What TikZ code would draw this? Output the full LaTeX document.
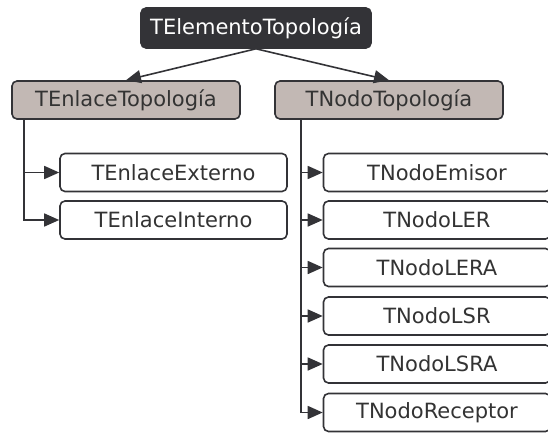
\documentclass[tikz,border=0pt]{standalone}
\usepackage{fontspec}
\setmainfont{DejaVu Sans}
\usepackage{tikz}
\usetikzlibrary{arrows.meta}
\definecolor{caja}{HTML}{333337}
\definecolor{padre}{HTML}{C2B8B4}
\definecolor{texto}{HTML}{333333}

\tikzset{
  clase/.style={draw=caja, line width=1.6pt, rounded corners=5pt, inner sep=0pt,
    minimum width=228pt, minimum height=38pt, text=texto,
    font=\fontsize{21}{24}\selectfont},
  raiz/.style={clase, fill=caja, text=white, minimum width=230pt, minimum height=40pt},
  base/.style={clase, fill=padre},
  hoja/.style={clase, fill=white, minimum width=227pt},
  rama/.style={draw=caja, line width=1.6pt, ->}
}

\begin{document}
\begin{tikzpicture}[x=1pt,y=-1pt,>={Triangle[length=15pt,width=13pt]}]

		\clip (0,0) rectangle (548,433);

		% raiz
		\node[raiz] (elem) at (256,28) {TElementoTopología};

		% clases base
		\node[base] (enlace) at (126,100) {TEnlaceTopología};
		\node[base] (nodo) at (389,100) {TNodoTopología};

		\draw[rama] (elem.south) -- (enlace.north);
		\draw[rama] (elem.south) -- (nodo.north);

		% enlaces
		\node[hoja] (ext) at (173.5,172.5) {TEnlaceExterno};
		\node[hoja] (int) at (173.5,220) {TEnlaceInterno};

		\coordinate (bus-enl) at (24,119);
		\foreach \h in {ext,int}
		{\draw[rama] (bus-enl) |- (\h.west);}

		% nodos
		\node[hoja] (emisor) at (437,172.5) {TNodoEmisor};
		\node[hoja] (ler) at (437,220) {TNodoLER};
		\node[hoja] (lera) at (437,267.5) {TNodoLERA};
		\node[hoja] (lsr) at (437,316) {TNodoLSR};
		\node[hoja] (lsra) at (437,364) {TNodoLSRA};
		\node[hoja] (rec) at (437,412.5) {TNodoReceptor};

		\coordinate (bus-nod) at (301,119);
		\foreach \h in {emisor,ler,lera,lsr,lsra,rec}
		{\draw[rama] (bus-nod) |- (\h.west);}

	\end{tikzpicture}
\end{document}
